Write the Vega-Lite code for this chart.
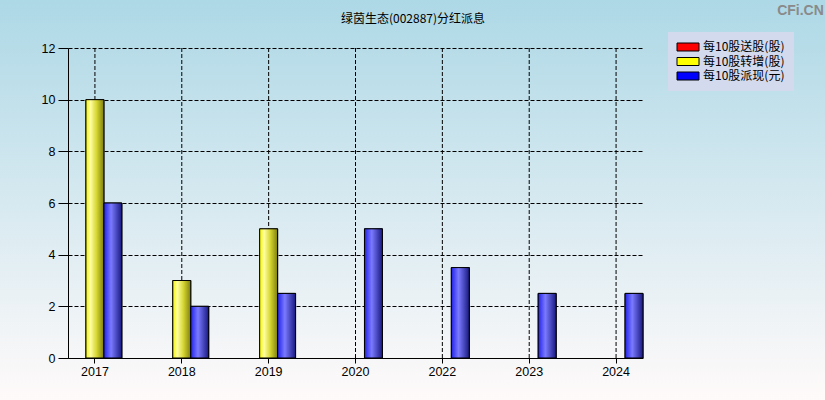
{
  "$schema": "https://vega.github.io/schema/vega-lite/v6.json",
  "width": 825,
  "height": 400,
  "autosize": {"type": "none"},
  "padding": 0,
  "background": "#d3e8ef",
  "config": {
    "view": {
      "stroke": null,
      "fill": {"gradient": "linear", "x1": 0, "y1": 0, "x2": 0, "y2": 1,
        "stops": [{"offset": 0, "color": "#add8e6"}, {"offset": 1, "color": "#fffafa"}]}
    },
    "axis": {
      "labelFont": "Liberation Sans",
      "labelFontSize": 12.5,
      "labelColor": "#000",
      "domainColor": "#000",
      "tickColor": "#000",
      "gridColor": "#000",
      "gridDash": [4, 2],
      "gridOpacity": 1,
      "gridWidth": 1
    }
  },
  "data": {
    "values": [
      {"year": "2017", "series": "每10股转增(股)", "value": 10},
      {"year": "2017", "series": "每10股派现(元)", "value": 6},
      {"year": "2018", "series": "每10股转增(股)", "value": 3},
      {"year": "2018", "series": "每10股派现(元)", "value": 2},
      {"year": "2019", "series": "每10股转增(股)", "value": 5},
      {"year": "2019", "series": "每10股派现(元)", "value": 2.5},
      {"year": "2020", "series": "每10股派现(元)", "value": 5},
      {"year": "2022", "series": "每10股派现(元)", "value": 3.5},
      {"year": "2023", "series": "每10股派现(元)", "value": 2.5},
      {"year": "2024", "series": "每10股派现(元)", "value": 2.5}
    ]
  },
  "encoding": {
    "x": {
      "field": "year",
      "type": "nominal",
      "scale": {
        "domain": ["2017", "2018", "2019", "2020", "2022", "2023", "2024"],
        "range": [68, 643],
        "paddingInner": 0.38,
        "paddingOuter": 0
      },
      "axis": {
        "orient": "bottom",
        "offset": -42,
        "title": "绿茵生态(002887)分红派息",
        "titleX": 412.5,
        "titleY": -340,
        "titleAlign": "center",
        "titleBaseline": "middle",
        "titleFont": "Noto Sans CJK SC",
        "titleFontSize": 12,
        "titleFontWeight": "normal",
        "titleColor": "#000",
        "labelAngle": 0,
        "tickSize": 5,
        "labelPadding": 2,
        "grid": false
      }
    }
  },
  "layer": [
    {
      "transform": [{"filter": "datum.series === '每10股派现(元)'"}],
      "mark": {"type": "rule", "stroke": "#000", "strokeWidth": 1, "strokeDash": [4, 2]},
      "encoding": {
        "y": {
          "datum": 0,
          "type": "quantitative",
          "scale": {"domain": [0, 12], "range": [358, 48], "nice": false, "zero": true},
          "axis": {
            "orient": "left",
            "offset": -68,
            "values": [0, 2, 4, 6, 8, 10, 12],
            "tickSize": 10,
            "labelPadding": 3,
            "grid": true,
            "title": "CFi.CN",
            "titleX": 732,
            "titleY": 10,
            "titleAngle": 0,
            "titleAlign": "center",
            "titleBaseline": "middle",
            "titleFont": "Liberation Sans",
            "titleFontSize": 14,
            "titleFontWeight": "bold",
            "titleColor": "#8a8a8a"
          }
        },
        "y2": {"datum": 12}
      }
    },
    {
      "mark": {"type": "bar", "stroke": "#000", "strokeWidth": 1},
      "encoding": {
        "y": {"field": "value", "type": "quantitative"},
        "xOffset": {
          "field": "series",
          "type": "nominal",
          "scale": {
            "domain": ["每10股送股(股)", "每10股转增(股)", "每10股派现(元)"],
            "paddingInner": 0,
            "paddingOuter": 0
          }
        },
        "color": {
          "field": "series",
          "type": "nominal",
          "scale": {
            "domain": ["每10股送股(股)", "每10股转增(股)", "每10股派现(元)"],
            "range": ["#ff0000", "#ffff00", "#0000ff"]
          },
          "legend": {
            "orient": "none",
            "legendX": 668,
            "legendY": 32,
            "title": null,
            "padding": 9,
            "symbolType": "M-2.75,-1H2.75V1H-2.75Z",
            "symbolSize": 64,
            "symbolStrokeColor": "#000",
            "symbolStrokeWidth": 1,
            "symbolOffset": 5,
            "labelOffset": 9,
            "labelFont": "Noto Sans CJK SC",
            "labelFontSize": 12,
            "labelColor": "#000",
            "rowPadding": 2.5,
            "fillColor": "#d3daee",
            "strokeColor": null
          }
        }
      }
    },
    {
      "transform": [{"filter": "datum.series === '每10股转增(股)'"}],
      "mark": {
        "type": "bar",
        "stroke": "#000",
        "strokeWidth": 1,
        "fill": {"gradient": "linear", "x1": 0, "y1": 0, "x2": 1, "y2": 0,
          "stops": [
            {"offset": 0, "color": "#f4f400"},
            {"offset": 0.25, "color": "#ffffa0"},
            {"offset": 0.6, "color": "#d4d430"},
            {"offset": 1, "color": "#7e7e10"}
          ]}
      },
      "encoding": {
        "y": {"field": "value", "type": "quantitative"},
        "xOffset": {"field": "series", "type": "nominal"}
      }
    },
    {
      "transform": [{"filter": "datum.series === '每10股派现(元)'"}],
      "mark": {
        "type": "bar",
        "stroke": "#000",
        "strokeWidth": 1,
        "fill": {"gradient": "linear", "x1": 0, "y1": 0, "x2": 1, "y2": 0,
          "stops": [
            {"offset": 0, "color": "#2222e8"},
            {"offset": 0.4, "color": "#7a7aff"},
            {"offset": 1, "color": "#181880"}
          ]}
      },
      "encoding": {
        "y": {"field": "value", "type": "quantitative"},
        "xOffset": {"field": "series", "type": "nominal"}
      }
    }
  ]
}
